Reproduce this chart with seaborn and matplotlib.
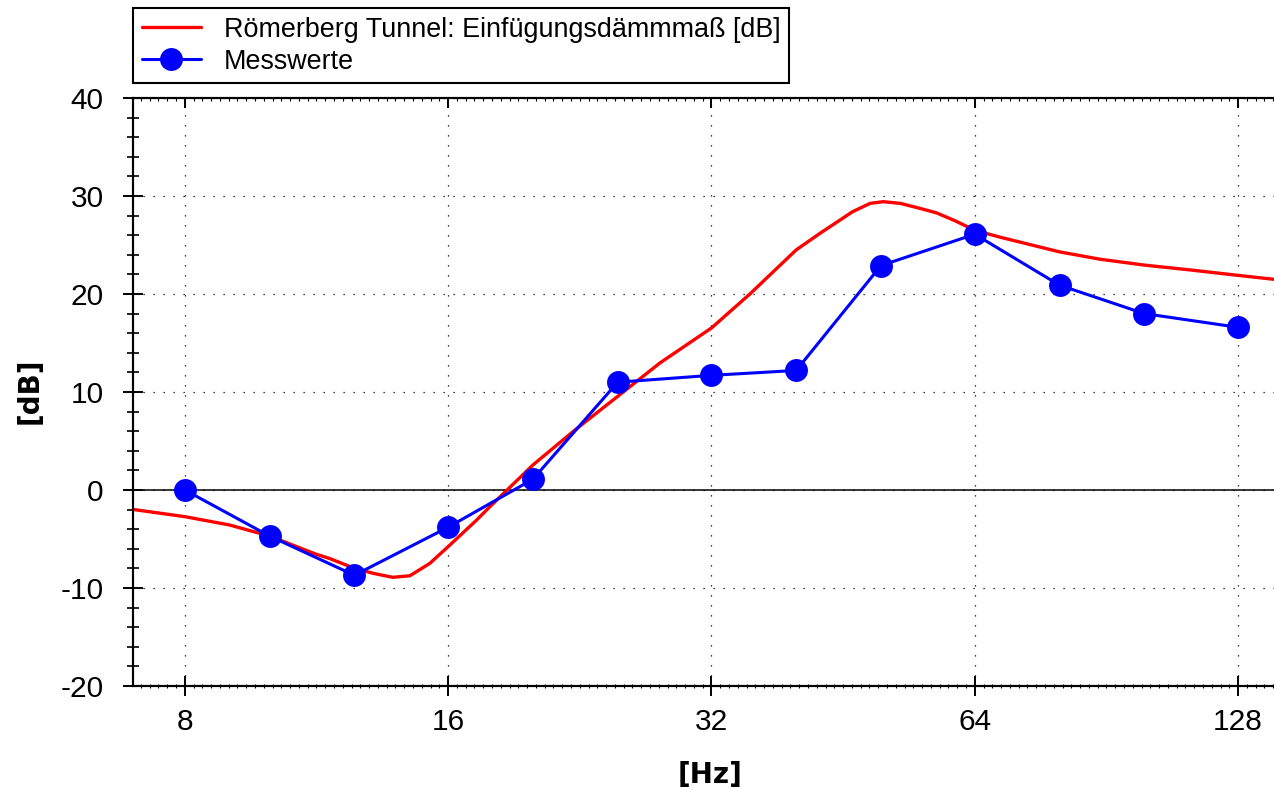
import numpy as np
import matplotlib
matplotlib.use("Agg")
import matplotlib.pyplot as plt
from matplotlib.ticker import FixedLocator, FixedFormatter, NullFormatter
import seaborn as sns

# Measured insertion loss per band
freq_meas = [8, 10, 12.5, 16, 20, 25, 32, 40, 50, 64, 80, 100, 128]
level_meas = [0.0, -4.7, -8.7, -3.8, 1.1, 11.0, 11.7, 12.2, 22.9, 26.1, 20.9, 18.0, 16.6]

# Calculated insertion loss curve
freq_model = [7.0, 8.0, 9.0, 10.0, 11.3, 11.72, 12.45, 13.13, 13.83, 14.47, 15.25, 16.0,
              17.25, 17.86, 20.0, 22.34, 24.95, 27.94, 32.0, 35.41, 40.0, 42.6, 44.9,
              46.4, 48.6, 50.3, 52.6, 55.4, 57.9, 60.75, 64.0, 68.4, 80.0, 89.0, 100.0,
              113.0, 128.0, 140.7]
level_model = [-2.0, -2.72, -3.57, -4.7, -6.55, -7.0, -7.93, -8.5, -8.91, -8.75, -7.48, -5.78,
               -3.06, -1.7, 2.55, 6.12, 9.49, 12.96, 16.53, 20.0, 24.5, 26.2, 27.55,
               28.4, 29.25, 29.42, 29.25, 28.74, 28.27, 27.48, 26.5, 25.8, 24.3, 23.55, 22.95,
               22.45, 21.9, 21.5]

x_ticks = [8, 16, 32, 64, 128]
x_labels = ["8", "16", "32", "64", "128"]
y_ticks = [-20, -10, 0, 10, 20, 30, 40]
y_labels = ["-20", "-10", "0", "10", "20", "30", "40"]

label_model = "Römerberg Tunnel: Einfügungsdämmmaß [dB]"
label_meas = "Messwerte"
x_title = "[Hz]"
y_title = "[dB]"

sns.set_style("white")
plt.rcParams["font.family"] = ["Liberation Sans", "DejaVu Sans"]
plt.rcParams["axes.unicode_minus"] = False
plt.rcParams["text.color"] = "black"

W, H = 1274, 790
fig = plt.figure(figsize=(W / 100, H / 100), dpi=100)
ax = fig.add_axes([133 / W, 1 - 686 / H, 1 - 133 / W, (686 - 98) / H])

ax.set_xscale("log", base=2)
ax.set_xlim(6.98, 140.7)
ax.set_ylim(-20, 40)

# Dotted grid and solid zero line
grid_kw = dict(color="black", lw=0.9, linestyle=(0, (1, 7)), zorder=1)
for xv in x_ticks:
    ax.axvline(xv, **grid_kw)
for yv in y_ticks:
    ax.axhline(yv, **grid_kw)
ax.axhline(0, color="black", lw=1.1, zorder=1.5)

sns.lineplot(x=freq_model, y=level_model, color="#ff0000", lw=2.4, ax=ax,
             label=label_model, sort=False, estimator=None, zorder=3)
sns.lineplot(x=freq_meas, y=level_meas, color="#0000ff", lw=2.2, marker="o",
             markersize=16.5, markeredgewidth=0, ax=ax, label=label_meas,
             sort=False, estimator=None, zorder=4)

# Axis ticks
ax.xaxis.set_major_locator(FixedLocator(x_ticks))
ax.xaxis.set_major_formatter(FixedFormatter(x_labels))
minor_x = [2 ** (k / 30) for k in range(int(np.log2(6.98) * 30), int(np.log2(140.7) * 30) + 1)]
ax.xaxis.set_minor_locator(FixedLocator(minor_x))
ax.xaxis.set_minor_formatter(NullFormatter())
ax.yaxis.set_major_locator(FixedLocator(y_ticks))
ax.yaxis.set_major_formatter(FixedFormatter(y_labels))
ax.yaxis.set_minor_locator(FixedLocator(np.arange(-20, 41, 2)))
ax.yaxis.set_minor_formatter(NullFormatter())

ax.tick_params(axis="x", which="major", direction="inout", length=14, width=1.4,
               pad=9, labelsize=21.5, colors="black", bottom=True, top=False)
ax.tick_params(axis="x", which="minor", direction="inout", length=3, width=0.8,
               bottom=True, top=False, colors="black")
ax.tick_params(axis="y", which="major", direction="inout", length=14, width=1.4,
               pad=14, labelsize=21.5, colors="black", left=True, right=False)
ax.tick_params(axis="y", which="minor", direction="inout", length=8, width=1.2,
               left=True, right=False, colors="black")

# Inward ticks along the top edge
ax_top = ax.twiny()
ax_top.set_xscale("log", base=2)
ax_top.set_xlim(ax.get_xlim())
ax_top.xaxis.set_major_locator(FixedLocator(x_ticks))
ax_top.xaxis.set_minor_locator(FixedLocator(minor_x))
ax_top.xaxis.set_major_formatter(NullFormatter())
ax_top.xaxis.set_minor_formatter(NullFormatter())
ax_top.tick_params(axis="x", which="major", direction="in", length=7, width=1.4, colors="black")
ax_top.tick_params(axis="x", which="minor", direction="in", length=2, width=0.8, colors="black")
ax_top.tick_params(axis="y", which="both", left=False, right=False,
                   labelleft=False, labelright=False)

for a in (ax, ax_top):
    for side in ("left", "bottom", "top"):
        a.spines[side].set_visible(True)
        a.spines[side].set_color("black")
        a.spines[side].set_linewidth(1.5)
    a.spines["right"].set_visible(False)

ax.set_xlabel("")
ax.set_ylabel("")
fig.text(710 / W, 1 - 775 / H, x_title, ha="center", va="center", fontsize=20,
         fontweight="bold", family="DejaVu Sans", color="black")
fig.text(30 / W, 1 - 391 / H, y_title, ha="center", va="center", fontsize=20,
         fontweight="bold", family="DejaVu Sans", rotation=90, color="black")

leg = ax.legend(loc="upper left", bbox_to_anchor=(133 / W, 1 - 8 / H),
                bbox_transform=fig.transFigure, fontsize=19.4, frameon=True,
                fancybox=False, framealpha=1, edgecolor="black", borderaxespad=0,
                handlelength=2.2, handletextpad=0.85, borderpad=0.32, labelspacing=0.22)
leg.get_frame().set_linewidth(1.5)
for t in leg.get_texts():
    t.set_color("black")

fig.savefig("out.png", dpi=100)
